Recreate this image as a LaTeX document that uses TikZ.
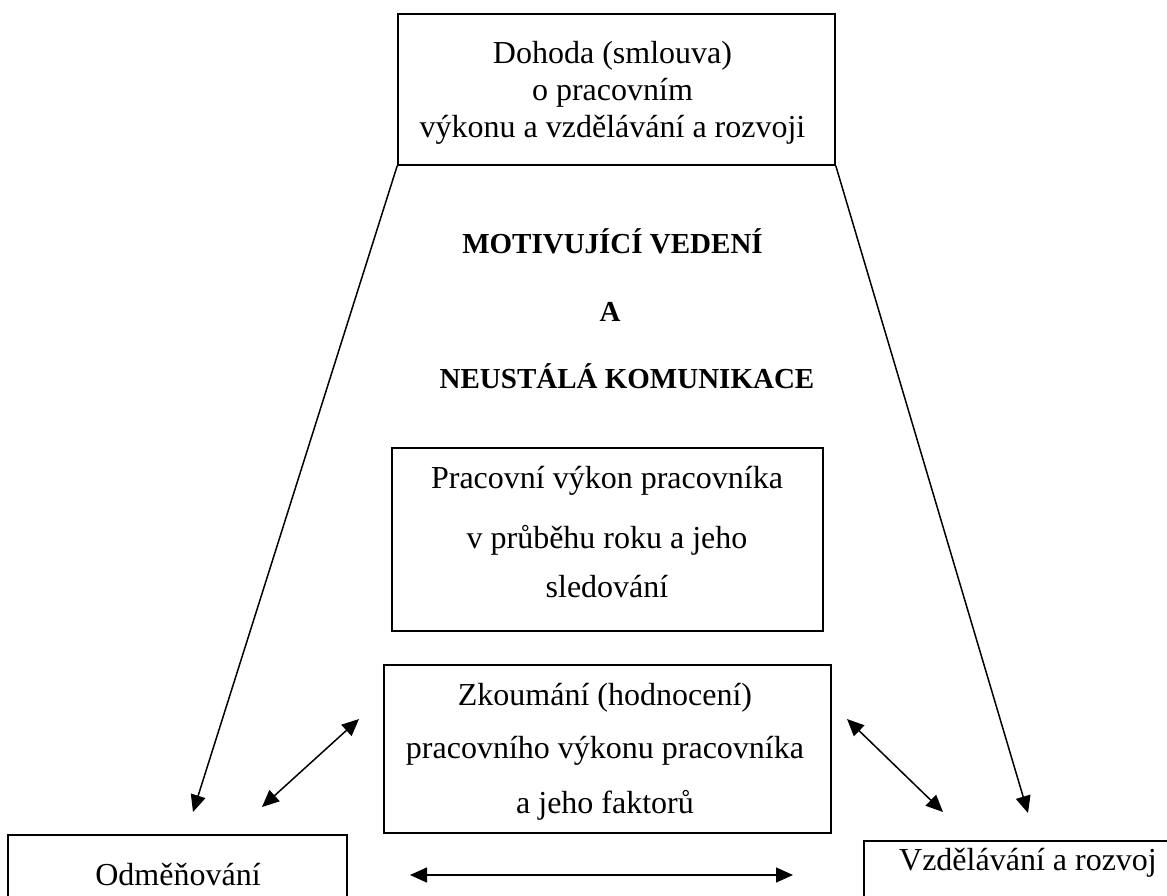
\documentclass[tikz,border=0pt]{standalone}
\usepackage{fontspec}
\setmainfont{Liberation Serif}
\usetikzlibrary{arrows.meta}
\begin{document}
\begin{tikzpicture}[x=1pt,y=-1pt,
  boxframe/.style={draw=black, line width=1.6pt, inner sep=0pt},
  txt/.style={font=\fontsize{32}{38}\selectfont, anchor=base, inner sep=0pt},
  btxt/.style={font=\fontsize{29}{34}\selectfont\bfseries, anchor=base, inner sep=0pt},
  conn/.style={line width=1.5pt, -{Triangle[length=17pt,width=15pt]}},
  dconn/.style={line width=1.5pt, {Triangle[length=17pt,width=15pt]}-{Triangle[length=17pt,width=15pt]}}
]
\clip (0,0) rectangle (1167,895);
\useasboundingbox (0,0) rectangle (1167,895);
\fill[white] (0,0) rectangle (1167,895);

% boxes
\node[boxframe, minimum width=437pt, minimum height=151pt] (dohoda) at (616.5,89.5) {};
\node[boxframe, minimum width=431pt, minimum height=183pt] (prac) at (607.5,539.5) {};
\node[boxframe, minimum width=447pt, minimum height=168pt] (zkoum) at (607.5,749) {};
\node[boxframe, minimum width=339pt, minimum height=100pt] (odm) at (177.5,885) {};
\node[boxframe, minimum width=340pt, minimum height=100pt] (vzd) at (1034,891) {};

% texts
\node[txt] (d1) at (612.5,63) {Dohoda (smlouva)};
\node[txt] (d2) at (612.5,100) {o pracovním};
\node[txt] (d3) at (612.5,137) {výkonu a vzdělávání a rozvoji};

\node[btxt] (m1) at (612.5,253) {MOTIVUJÍCÍ VEDENÍ};
\node[btxt] (m2) at (610,321) {A};
\node[btxt] (m3) at (627,388) {NEUSTÁLÁ KOMUNIKACE};

\node[txt] (p1) at (607,488) {Pracovní výkon pracovníka};
\node[txt] (p2) at (607,548) {v průběhu roku a jeho};
\node[txt] (p3) at (607,597) {sledování};

\node[txt] (z1) at (605,705) {Zkoumání (hodnocení)};
\node[txt] (z2) at (605,758) {pracovního výkonu pracovníka};
\node[txt] (z3) at (605,813) {a jeho faktorů};

\node[txt] (o1) at (178,885) {Odměňování};
\node[txt] (v1) at (1028,870) {Vzdělávání a rozvoj};

% connector end points
\coordinate (tl) at (193,812);
\coordinate (tr) at (1028,813);
\coordinate (la) at (262,807);
\coordinate (lb) at (359,719);
\coordinate (ra) at (847,719);
\coordinate (rb) at (943,812);
\coordinate (ha) at (410,875);
\coordinate (hb) at (793,875);

\draw[conn] (dohoda.south west) -- (tl);
\draw[conn] (dohoda.south east) -- (tr);
\draw[dconn] (la) -- (lb);
\draw[dconn] (ra) -- (rb);
\draw[dconn] (ha) -- (hb);
\end{tikzpicture}
\end{document}
